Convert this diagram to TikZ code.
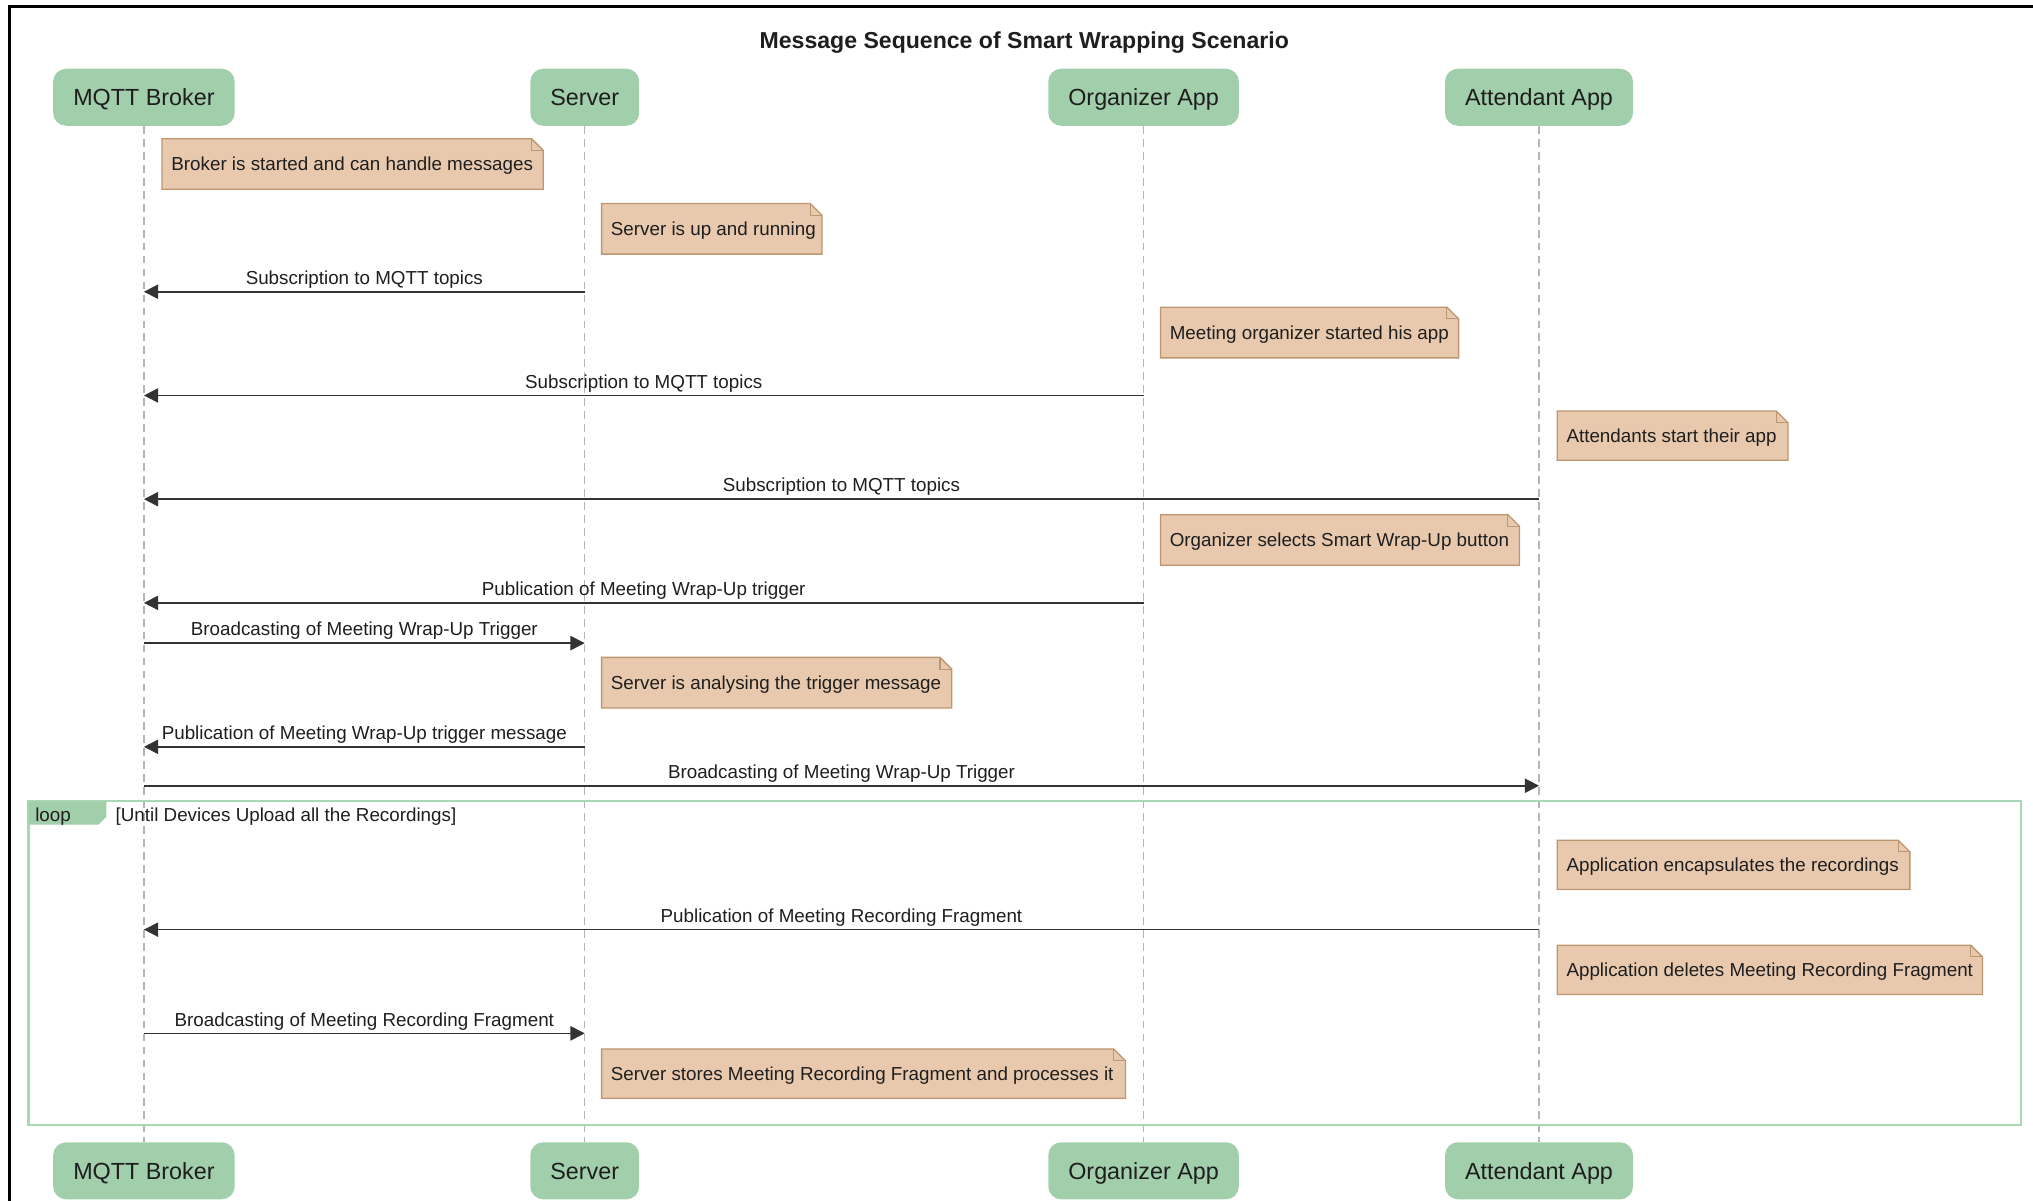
\documentclass[tikz,border=0pt]{standalone}
\usepackage{fontspec}
\setmainfont{Liberation Sans}
\usetikzlibrary{arrows.meta}

\definecolor{headgreen}{HTML}{A2CFAB}
\definecolor{loopgreen}{HTML}{AAD7B5}
\definecolor{notefill}{HTML}{E8C9AE}
\definecolor{noteline}{HTML}{BC9670}
\definecolor{msgline}{HTML}{333333}
\definecolor{lifegray}{HTML}{B5B5B5}
\definecolor{inkdark}{HTML}{1E1E1E}

\tikzset{
  actor/.style={fill=headgreen, draw=none, rounded corners=10pt,
    minimum height=44pt, inner sep=0pt, text=inkdark,
    text height=13pt, text depth=0pt,
    font=\fontsize{18}{21}\selectfont},
  lifeline/.style={draw=lifegray, line width=0.9pt, dash pattern=on 6pt off 4pt},
  msg/.style={draw=msgline, line width=1.3pt,
    -{Triangle[length=11pt,width=11pt]}},
  msglabel/.style={above, inner sep=2pt, text=inkdark,
    text height=10.5pt, text depth=3pt,
    font=\fontsize{14.5}{17}\selectfont},
  notebody/.style={fill=notefill, draw=noteline, line width=1pt},
  notefold/.style={draw=noteline, line width=0.8pt},
  notetext/.style={inner sep=0pt, text=inkdark, text height=10.5pt, text depth=0pt,
    font=\fontsize{14.5}{17}\selectfont},
  titletext/.style={inner sep=0pt, text=inkdark, text height=12.8pt, text depth=0pt,
    font=\fontsize{17.8}{21}\selectfont\bfseries},
  looptext/.style={inner sep=0pt, text=inkdark, text height=10.5pt, text depth=0pt,
    font=\fontsize{14.5}{17}\selectfont},
}

% note with a folded top-right corner: name, x1, y1, x2, y2, text
\newcommand\seqnote[6]{%
  \filldraw[notebody] (#2,#3) -- ({#4-9},#3) -- (#4,{#3+9}) -- (#4,#5) -- (#2,#5) -- cycle;
  \draw[notefold] ({#4-9},#3) -- ({#4-9},{#3+9}) -- (#4,{#3+9});
  \node[notetext, anchor=west] (#1) at ({#2+7},{(#3+#5)/2}) {#6};
}

% message between two lifelines at height y: from, to, y, label
\newcommand\seqmsg[4]{%
  \draw[msg] (#1 |- 0,#3) -- node[msglabel] {#4} (#2 |- 0,#3);
}

\begin{document}
\begin{tikzpicture}[x=1pt,y=-1pt]
\useasboundingbox (0,0) rectangle (1568,926);

% outer frame edges
\draw[line width=2.4pt, black] (7.5,926) -- (7.5,5) -- (1568,5);

% title
\node[titletext] (title) at (790,31) {Message Sequence of Smart Wrapping Scenario};

% participants, top and bottom
\node[actor, minimum width=140pt] (brokerTop) at (111,75) {MQTT Broker};
\node[actor, minimum width=84pt]  (serverTop) at (451,75) {Server};
\node[actor, minimum width=147pt] (orgTop)    at (882,75) {Organizer App};
\node[actor, minimum width=145pt] (attTop)    at (1187,75) {Attendant App};

\node[actor, minimum width=140pt] (brokerBot) at (111,903) {MQTT Broker};
\node[actor, minimum width=84pt]  (serverBot) at (451,903) {Server};
\node[actor, minimum width=147pt] (orgBot)    at (882,903) {Organizer App};
\node[actor, minimum width=145pt] (attBot)    at (1187,903) {Attendant App};

% lifelines
\draw[lifeline] (brokerTop.south) -- (brokerBot.north);
\draw[lifeline] (serverTop.south) -- (serverBot.north);
\draw[lifeline] (orgTop.south) -- (orgBot.north);
\draw[lifeline] (attTop.south) -- (attBot.north);

% loop fragment
\draw[draw=loopgreen, line width=1.6pt] (22,618) rectangle (1559,868);
\fill[headgreen] (22,618) -- (82,618) -- (82,630) -- (76,636) -- (22,636) -- cycle;
\node[looptext, anchor=west] (loopTag) at (27,628) {loop};
\node[looptext, anchor=west] (loopGuard) at (89,628) {[Until Devices Upload all the Recordings]};

% notes
\seqnote{nBroker}{125}{107}{419}{146}{Broker is started and can handle messages}
\seqnote{nServerUp}{464}{157}{634}{196}{Server is up and running}
\seqnote{nOrgStart}{895}{237}{1125}{276}{Meeting organizer started his app}
\seqnote{nAttStart}{1201}{317}{1379}{355}{Attendants start their app}
\seqnote{nOrgSelect}{895}{397}{1172}{436}{Organizer selects Smart Wrap-Up button}
\seqnote{nServerAnalyse}{464}{507}{734}{546}{Server is analysing the trigger message}
\seqnote{nAppEncap}{1201}{648}{1473}{686}{Application encapsulates the recordings}
\seqnote{nAppDelete}{1201}{729}{1529}{767}{Application deletes Meeting Recording Fragment}
\seqnote{nServerStore}{464}{809}{868}{847}{Server stores Meeting Recording Fragment and processes it}

% messages
\seqmsg{serverTop}{brokerTop}{225}{Subscription to MQTT topics}
\seqmsg{orgTop}{brokerTop}{305}{Subscription to MQTT topics}
\seqmsg{attTop}{brokerTop}{385}{Subscription to MQTT topics}
\seqmsg{orgTop}{brokerTop}{465}{Publication of Meeting Wrap-Up trigger}
\seqmsg{brokerTop}{serverTop}{496}{Broadcasting of Meeting Wrap-Up Trigger}
\seqmsg{serverTop}{brokerTop}{576}{Publication of Meeting Wrap-Up trigger message}
\seqmsg{brokerTop}{attTop}{606}{Broadcasting of Meeting Wrap-Up Trigger}
\seqmsg{attTop}{brokerTop}{717}{Publication of Meeting Recording Fragment}
\seqmsg{brokerTop}{serverTop}{797}{Broadcasting of Meeting Recording Fragment}

\end{tikzpicture}
\end{document}
